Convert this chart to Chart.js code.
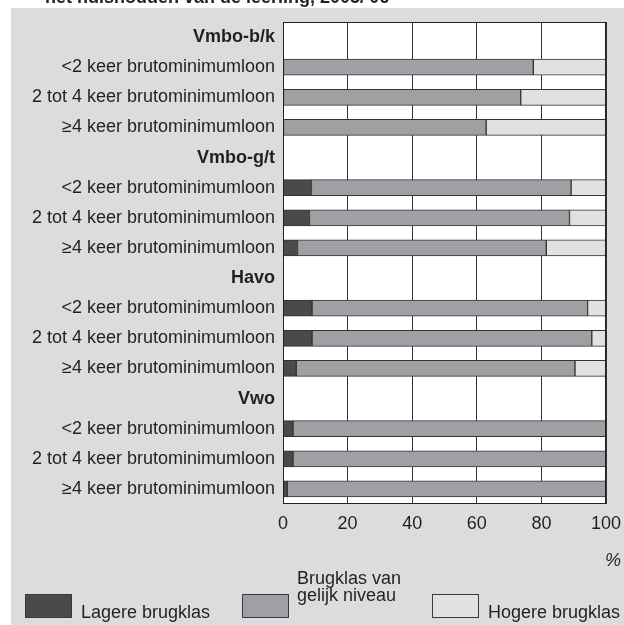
<!DOCTYPE html>
<html>
<head>
<meta charset="utf-8">
<script src="https://cdn.jsdelivr.net/npm/chart.js@4"></script>
<style>
  body { margin: 0; background: #fff; }
  canvas { display: block; }
</style>
</head>
<body>
<canvas id="chart" width="624" height="625"></canvas>
<script>
// rows of the chart, group headers have no bar
const categories = [
    'Vmbo-b/k', '<2 keer brutominimumloon', '2 tot 4 keer brutominimumloon', '≥4 keer brutominimumloon',
    'Vmbo-g/t', '<2 keer brutominimumloon', '2 tot 4 keer brutominimumloon', '≥4 keer brutominimumloon',
    'Havo', '<2 keer brutominimumloon', '2 tot 4 keer brutominimumloon', '≥4 keer brutominimumloon',
    'Vwo', '<2 keer brutominimumloon', '2 tot 4 keer brutominimumloon', '≥4 keer brutominimumloon'
];
const headerRows = [0, 4, 8, 12];

const lagere  = [null, null, null, null, null, 8.8, 8.2, 4.5, null, 9.0, 9.0, 4.1, null, 3.1, 3.1, 1.3];
const gelijk  = [null, 77.5, 73.6, 62.9, null, 80.4, 80.5, 77.0, null, 85.3, 86.6, 86.3, null, 96.9, 96.9, 98.7];
const hogere  = [null, 22.5, 26.4, 37.1, null, 10.8, 11.3, 18.5, null, 5.7, 4.4, 9.6, null, null, null, null];

const xTicks = [0, 20, 40, 60, 80, 100];
const titleText = "het huishouden van de leerling, 2005/'06";
const legendItems = [
    { lines: ['Lagere brugklas'], color: '#4a4a4c' },
    { lines: ['Brugklas van', 'gelijk niveau'], color: '#9fa0a3' },
    { lines: ['Hogere brugklas'], color: '#e1e1e3' }
];

const FONT = "'Liberation Sans', Arial, sans-serif";
Chart.defaults.font.family = FONT;
Chart.defaults.font.size = 18;
Chart.defaults.color = '#231f20';

// background, white plot area, frame, title and legend
const decor = {
    id: 'decor',
    beforeDraw(chart) {
        const ctx = chart.ctx;
        const a = chart.chartArea;
        ctx.save();
        ctx.fillStyle = '#fff';
        ctx.fillRect(0, 0, chart.width, chart.height);
        ctx.fillStyle = '#dcdcde';
        ctx.fillRect(11, 8, chart.width - 11, chart.height - 8);
        ctx.fillStyle = '#fff';
        ctx.fillRect(a.left, a.top, a.right - a.left, a.bottom - a.top);
        ctx.fillStyle = '#231f20';
        ctx.font = 'bold 18px ' + FONT;
        ctx.textBaseline = 'alphabetic';
        ctx.fillText(titleText, 45, 3);
        ctx.restore();
    },
    afterDraw(chart) {
        const ctx = chart.ctx;
        const a = chart.chartArea;
        ctx.save();
        ctx.strokeStyle = '#231f20';
        ctx.lineWidth = 1;
        ctx.strokeRect(a.left + 0.5, a.top + 0.5, a.right - a.left - 1, a.bottom - a.top - 1);

        ctx.fillStyle = '#231f20';
        ctx.font = 'italic 18px ' + FONT;
        ctx.textAlign = 'right';
        ctx.textBaseline = 'alphabetic';
        ctx.fillText('%', 621, 566);

        // legend
        const boxX = [25, 242, 432];
        ctx.font = '18px ' + FONT;
        ctx.textAlign = 'left';
        legendItems.forEach((it, i) => {
            ctx.fillStyle = it.color;
            ctx.fillRect(boxX[i], 594, 47, 24);
            ctx.strokeStyle = '#3a3a3a';
            ctx.strokeRect(boxX[i] + 0.5, 594.5, 46, 23);
            ctx.fillStyle = '#231f20';
            if (it.lines.length === 1) {
                ctx.fillText(it.lines[0], boxX[i] + 56, 618);
            } else {
                ctx.fillText(it.lines[0], boxX[i] + 55, 584);
                ctx.fillText(it.lines[1], boxX[i] + 55, 601);
            }
        });
        ctx.restore();
    }
};

const barStyle = { borderColor: '#333335', borderWidth: 1, borderSkipped: false, barThickness: 16 };

new Chart(document.getElementById('chart'), {
    type: 'bar',
    data: {
        labels: categories,
        datasets: [
            { label: 'Lagere brugklas', data: lagere, backgroundColor: '#4a4a4c', ...barStyle },
            { label: 'Brugklas van gelijk niveau', data: gelijk, backgroundColor: '#9fa0a3', ...barStyle },
            { label: 'Hogere brugklas', data: hogere, backgroundColor: '#e1e1e3', ...barStyle }
        ]
    },
    options: {
        indexAxis: 'y',
        responsive: false,
        animation: false,
        layout: { padding: { left: 0, top: 22, right: 18, bottom: 0 } },
        plugins: { legend: { display: false }, tooltip: { enabled: false } },
        scales: {
            x: {
                stacked: true,
                min: 0,
                max: 100,
                afterBuildTicks: s => { s.ticks = xTicks.map(v => ({ value: v })); },
                afterFit: s => { s.height = 121; s.paddingLeft = 0; s.paddingRight = 0; },
                grid: { color: '#333335', lineWidth: 1, drawTicks: false },
                border: { display: false },
                ticks: { padding: 9, font: { size: 18 } }
            },
            y: {
                stacked: true,
                afterFit: s => { s.width = 283; },
                grid: { display: false, drawTicks: false },
                border: { display: false },
                ticks: {
                    padding: 8,
                    autoSkip: false,
                    font: c => headerRows.includes(c.index) ? { size: 18, weight: 'bold' } : { size: 18 }
                }
            }
        }
    },
    plugins: [decor]
});
</script>
</body>
</html>
